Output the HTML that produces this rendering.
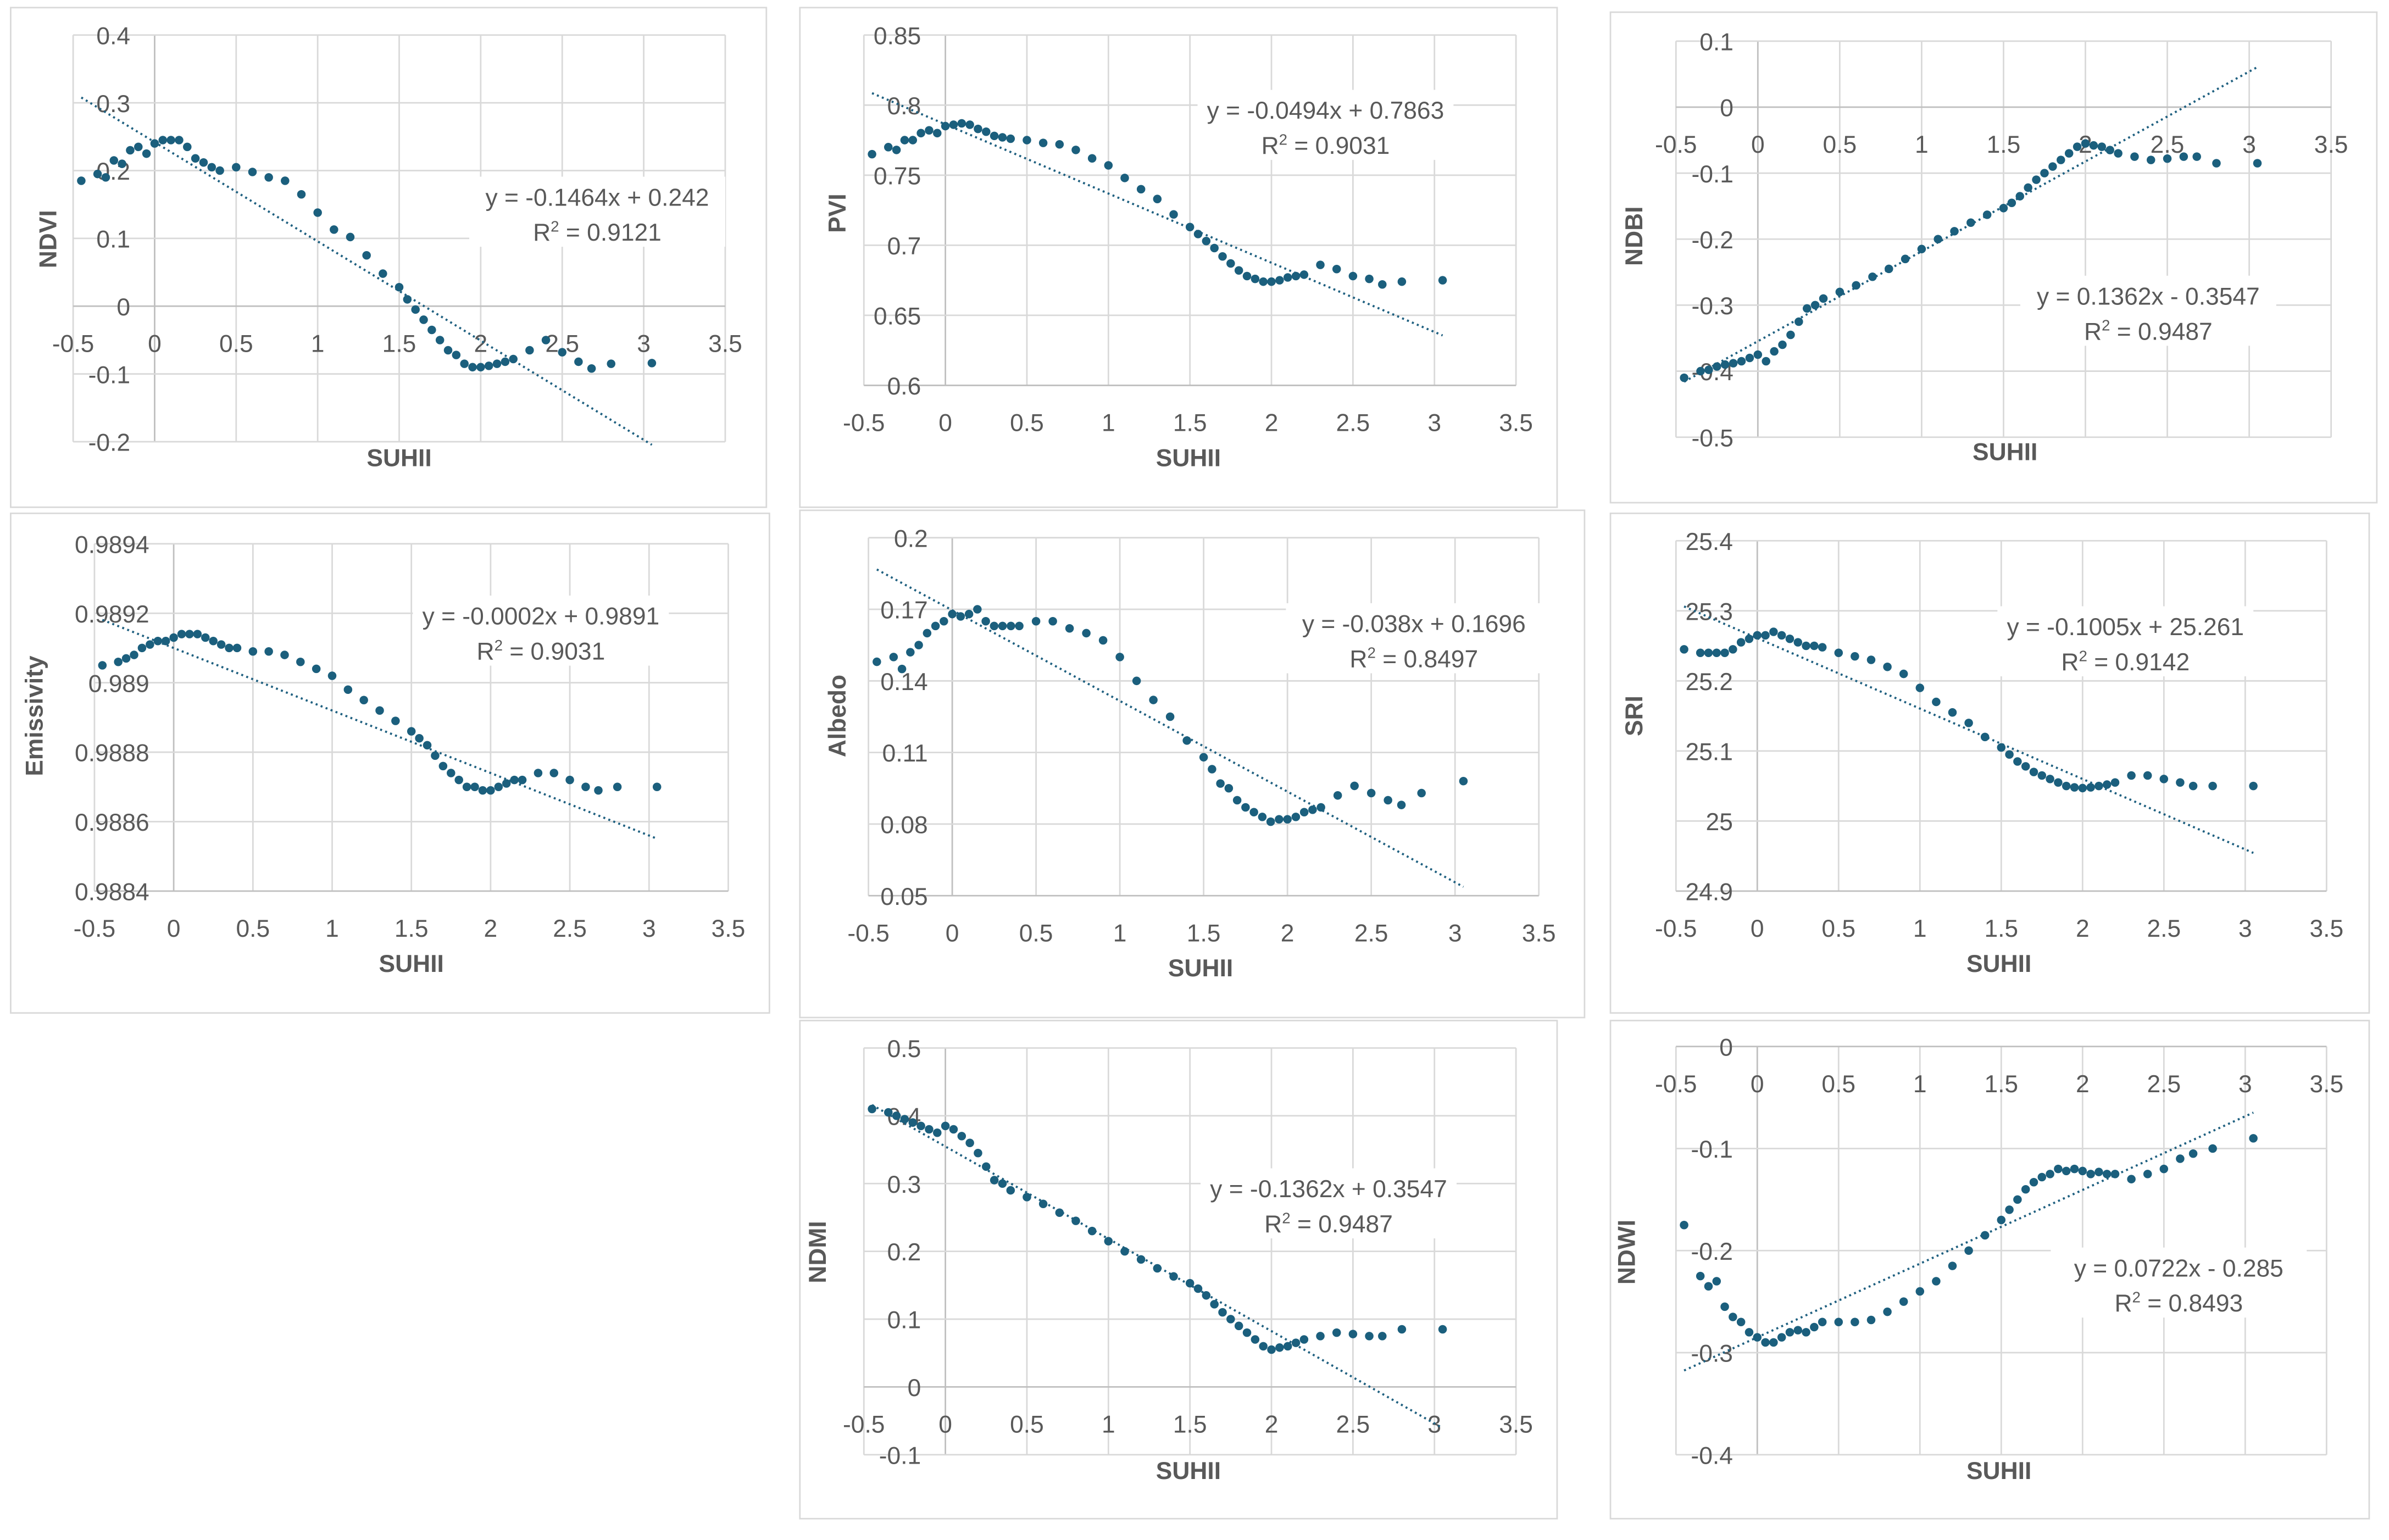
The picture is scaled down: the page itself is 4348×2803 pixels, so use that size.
<!DOCTYPE html>
<html><head><meta charset="utf-8"><style>
html,body{margin:0;padding:0;background:#fff;}
svg{display:block;}
text{font-family:"Liberation Sans",sans-serif;}
</style></head><body>
<svg id="fig" xmlns="http://www.w3.org/2000/svg" width="4348" height="2803" viewBox="0 0 1568 1011" preserveAspectRatio="none"></svg>
<script>
// Shared SUHII x values
const suhii = [-0.45,-0.35,-0.3,-0.25,-0.2,-0.15,-0.1,-0.05,0,0.05,0.1,0.15,0.2,0.25,0.3,0.35,0.4,0.5,0.6,0.7,0.8,0.9,1.0,1.1,1.2,1.3,1.4,1.5,1.55,1.6,1.65,1.7,1.75,1.8,1.85,1.9,1.95,2.0,2.05,2.1,2.15,2.2,2.3,2.4,2.5,2.6,2.68,2.8,3.05];
const ndviVals = [0.185,0.195,0.19,0.215,0.21,0.23,0.235,0.225,0.24,0.245,0.245,0.245,0.235,0.218,0.212,0.205,0.2,0.205,0.198,0.19,0.185,0.165,0.138,0.113,0.102,0.075,0.048,0.028,0.01,-0.005,-0.02,-0.035,-0.05,-0.065,-0.072,-0.085,-0.09,-0.09,-0.088,-0.085,-0.082,-0.078,-0.065,-0.05,-0.068,-0.082,-0.092,-0.085,-0.084];
const pviVals = [0.765,0.77,0.768,0.775,0.775,0.78,0.782,0.78,0.785,0.786,0.787,0.786,0.783,0.781,0.778,0.777,0.776,0.775,0.773,0.772,0.768,0.762,0.757,0.748,0.74,0.733,0.722,0.713,0.708,0.703,0.698,0.692,0.687,0.682,0.678,0.676,0.674,0.674,0.675,0.677,0.678,0.679,0.686,0.683,0.678,0.676,0.672,0.674,0.675];
const ndbiVals = [-0.41,-0.4,-0.398,-0.393,-0.39,-0.388,-0.385,-0.38,-0.375,-0.385,-0.37,-0.36,-0.345,-0.325,-0.305,-0.3,-0.29,-0.28,-0.27,-0.257,-0.245,-0.23,-0.215,-0.2,-0.188,-0.175,-0.163,-0.153,-0.145,-0.135,-0.122,-0.11,-0.1,-0.09,-0.08,-0.07,-0.06,-0.055,-0.058,-0.06,-0.065,-0.07,-0.075,-0.08,-0.078,-0.075,-0.075,-0.085,-0.085];
const emisVals = [0.98905,0.98906,0.98907,0.98908,0.9891,0.98911,0.98912,0.98912,0.98913,0.98914,0.98914,0.98914,0.98913,0.98912,0.98911,0.9891,0.9891,0.98909,0.98909,0.98908,0.98906,0.98904,0.98902,0.98898,0.98895,0.98892,0.98889,0.98886,0.98884,0.98882,0.98879,0.98876,0.98874,0.98872,0.9887,0.9887,0.98869,0.98869,0.9887,0.98871,0.98872,0.98872,0.98874,0.98874,0.98872,0.9887,0.98869,0.9887,0.9887];
const albedoVals = [0.148,0.15,0.145,0.152,0.155,0.16,0.163,0.165,0.168,0.167,0.168,0.17,0.165,0.163,0.163,0.163,0.163,0.165,0.165,0.162,0.16,0.157,0.15,0.14,0.132,0.125,0.115,0.108,0.103,0.097,0.095,0.09,0.087,0.085,0.083,0.081,0.082,0.082,0.083,0.085,0.086,0.087,0.092,0.096,0.093,0.09,0.088,0.093,0.098];
const sriVals = [25.245,25.24,25.24,25.24,25.24,25.245,25.255,25.26,25.265,25.265,25.27,25.265,25.26,25.255,25.25,25.25,25.248,25.24,25.235,25.23,25.22,25.21,25.19,25.17,25.155,25.14,25.12,25.105,25.095,25.085,25.078,25.07,25.065,25.06,25.055,25.05,25.048,25.047,25.048,25.05,25.052,25.055,25.065,25.065,25.06,25.055,25.05,25.05,25.05];
const ndmiVals = [0.41,0.405,0.4,0.395,0.39,0.385,0.38,0.375,0.385,0.38,0.37,0.36,0.345,0.325,0.305,0.3,0.29,0.28,0.27,0.257,0.245,0.23,0.215,0.2,0.188,0.175,0.163,0.153,0.145,0.135,0.122,0.11,0.1,0.09,0.08,0.07,0.06,0.055,0.058,0.06,0.065,0.07,0.075,0.08,0.078,0.075,0.075,0.085,0.085];
const ndwiVals = [-0.175,-0.225,-0.235,-0.23,-0.255,-0.265,-0.27,-0.28,-0.285,-0.29,-0.29,-0.285,-0.28,-0.278,-0.28,-0.275,-0.27,-0.27,-0.27,-0.268,-0.26,-0.25,-0.24,-0.23,-0.215,-0.2,-0.185,-0.17,-0.16,-0.15,-0.14,-0.133,-0.128,-0.125,-0.12,-0.122,-0.12,-0.122,-0.125,-0.123,-0.125,-0.125,-0.13,-0.125,-0.12,-0.11,-0.105,-0.1,-0.09];
const xTicks = [-0.5,0,0.5,1,1.5,2,2.5,3,3.5];
const xTickLabels = ["-0.5","0","0.5","1","1.5","2","2.5","3","3.5"];
const ndviTicks = ["0.4","0.3","0.2","0.1","0","-0.1","-0.2"];
const pviTicks = ["0.85","0.8","0.75","0.7","0.65","0.6"];
const ndbiTicks = ["0.1","0","-0.1","-0.2","-0.3","-0.4","-0.5"];
const emisTicks = ["0.9894","0.9892","0.989","0.9888","0.9886","0.9884"];
const albedoTicks = ["0.2","0.17","0.14","0.11","0.08","0.05"];
const sriTicks = ["25.4","25.3","25.2","25.1","25","24.9"];
const ndmiTicks = ["0.5","0.4","0.3","0.2","0.1","0","-0.1"];
const ndwiTicks = ["0","-0.1","-0.2","-0.3","-0.4"];
const trendSlopes = [-0.1464,-0.0494,0.1362,-0.00018,-0.038,-0.1005,-0.1362,0.0722];
const trendIntercepts = [0.242,0.7863,-0.3547,0.9891,0.1696,25.261,0.3547,-0.285];
const eqLines = ["y = -0.1464x + 0.242","y = -0.0494x + 0.7863","y = 0.1362x - 0.3547","y = -0.0002x + 0.9891","y = -0.038x + 0.1696","y = -0.1005x + 25.261","y = -0.1362x + 0.3547","y = 0.0722x - 0.285"];
const r2Vals = ["0.9121","0.9031","0.9487","0.9031","0.8497","0.9142","0.9487","0.8493"];

const NS="http://www.w3.org/2000/svg";
const svg=document.getElementById('fig');
function mk(tag,attrs,parent){const e=document.createElementNS(NS,tag);for(const k in attrs)e.setAttribute(k,attrs[k]);(parent||svg).appendChild(e);return e;}

const panels=[
 {name:'ndvi',title:'NDVI',vals:ndviVals,ticks:ndviTicks,box:[7,5,496,328],L:48,R:476,T:23,B:290,yMax:0.4,yMin:-0.2,xAxisAt:0,eq:[392,130],yt:[37,157],xt:[262,306]},
 {name:'pvi',title:'PVI',vals:pviVals,ticks:pviTicks,box:[525,5,497,328],L:567,R:995,T:23,B:253,yMax:0.85,yMin:0.6,xAxisAt:0.6,eq:[870,73],yt:[555,140],xt:[780,306]},
 {name:'ndbi',title:'NDBI',vals:ndbiVals,ticks:ndbiTicks,box:[1057,8,503,322],L:1100,R:1530,T:27,B:287,yMax:0.1,yMin:-0.5,xAxisAt:0,eq:[1410,195],yt:[1078,155],xt:[1316,302]},
 {name:'emissivity',title:'Emissivity',vals:emisVals,ticks:emisTicks,box:[7,337,498,328],L:62,R:478,T:357,B:585,yMax:0.9894,yMin:0.9884,xAxisAt:0.9884,eq:[355,405],yt:[28,470],xt:[270,638]},
 {name:'albedo',title:'Albedo',vals:albedoVals,ticks:albedoTicks,box:[525,335,515,333],L:570,R:1010,T:353,B:588,yMax:0.2,yMin:0.05,xAxisAt:0.05,eq:[928,410],yt:[555,470],xt:[788,641]},
 {name:'sri',title:'SRI',vals:sriVals,ticks:sriTicks,box:[1057,337,498,328],L:1100,R:1527,T:355,B:585,yMax:25.4,yMin:24.9,xAxisAt:24.9,eq:[1395,412],yt:[1078,470],xt:[1312,638]},
 {name:'ndmi',title:'NDMI',vals:ndmiVals,ticks:ndmiTicks,box:[525,670,497,327],L:567,R:995,T:688,B:955,yMax:0.5,yMin:-0.1,xAxisAt:0,eq:[872,781],yt:[542,822],xt:[780,971]},
 {name:'ndwi',title:'NDWI',vals:ndwiVals,ticks:ndwiTicks,box:[1057,670,498,327],L:1100,R:1527,T:687,B:955,yMax:0,yMin:-0.4,xAxisAt:0,eq:[1430,833],yt:[1073,822],xt:[1312,971]}
];

panels.forEach((p,pi)=>{
 const g=mk('g',{});
 
 
 const fx=v=>p.L+(v-(-0.5))/(4)*(p.R-p.L);
 const fy=v=>p.T+(p.yMax-v)/(p.yMax-p.yMin)*(p.B-p.T);
 const bx=mk('rect',{x:p.box[0],y:p.box[1],width:p.box[2],height:p.box[3],fill:'#fff',stroke:'#d9d9d9','stroke-width':1},g);
 
 
 xTicks.forEach(t=>{
  mk('line',{x1:fx(t),x2:fx(t),y1:p.T,y2:p.B,stroke:t===0?'#bfbfbf':'#d9d9d9','stroke-width':1},g);
 });
 p.ticks.forEach((lab,i)=>{
  const v=parseFloat(lab);
  const y=fy(v);
  mk('line',{x1:p.L,x2:p.R,y1:y,y2:y,stroke:(Math.abs(v-p.xAxisAt)<1e-9)?'#bfbfbf':'#d9d9d9','stroke-width':1},g);
  const t=mk('text',{x:fx(0)-16,y:y+6,'text-anchor':'end','font-size':16,fill:'#595959'},g);
  t.textContent=lab;
  
  
 });
 const ay=fy(p.xAxisAt);
 xTickLabels.forEach((lab,i)=>{
  const t=mk('text',{x:fx(xTicks[i]),y:ay+30,'text-anchor':'middle','font-size':16,fill:'#595959'},g);
  t.textContent=lab;
  
  
 });
 const x0=-0.45,x1=3.05;
 const tl=mk('line',{x1:fx(x0),y1:fy(trendSlopes[pi]*x0+trendIntercepts[pi]),x2:fx(x1),y2:fy(trendSlopes[pi]*x1+trendIntercepts[pi]),stroke:'#1f6080','stroke-width':1.4,'stroke-dasharray':'1.3 2.2'},g);
 
 
 suhii.forEach((xv,i)=>{
  const c=mk('circle',{cx:fx(xv),cy:fy(p.vals[i]),r:2.8,fill:'#1b5f7d'},g);
  
  
 });
 const eb=mk('rect',{x:p.eq[0]-84,y:p.eq[1]-14,width:168,height:46,fill:'#fff'},g);
 
 
 const e1=mk('text',{x:p.eq[0],y:p.eq[1]+5,'text-anchor':'middle','font-size':16,fill:'#595959'},g);
 e1.textContent=eqLines[pi];
 
 
 const e2=mk('text',{x:p.eq[0],y:p.eq[1]+28,'text-anchor':'middle','font-size':16,fill:'#595959'},g);
 
 
 e2.innerHTML='R<tspan dy="-6" font-size="10">2</tspan><tspan dy="6"> = '+r2Vals[pi]+'</tspan>';
 const yt=mk('text',{x:p.yt[0],y:p.yt[1],'text-anchor':'middle','font-size':16,'font-weight':'bold',fill:'#595959',transform:'rotate(-90 '+p.yt[0]+' '+p.yt[1]+')'},g);
 yt.textContent=p.title;
 
 
 const xt=mk('text',{x:p.xt[0],y:p.xt[1],'text-anchor':'middle','font-size':16,'font-weight':'bold',fill:'#595959'},g);
 xt.textContent='SUHII';
 
 
});
</script>
</body></html>
